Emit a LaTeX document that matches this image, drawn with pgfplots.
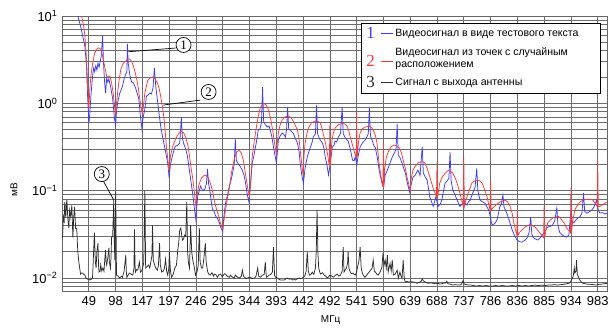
\documentclass[border=0pt]{standalone}
\usepackage{fontspec}
\setmainfont{Liberation Sans}
\newfontfamily\serifnum{Liberation Serif}
\usepackage{pgfplots}
\pgfplotsset{compat=1.18}
\definecolor{cblue}{RGB}{60,60,245}
\definecolor{cred}{RGB}{236,64,64}
\definecolor{cblack}{RGB}{45,45,45}
\begin{document}
\begin{tikzpicture}
\begin{axis}[
  scale only axis, width=545bp, height=275bp,
  at={(0bp,0bp)}, anchor=south west,
  xmin=0, xmax=1000, ymode=log, ymin=0.0071, ymax=10,
  xtick={49.15,98.3,147.45,196.6,245.75,294.9,344.05,393.2,442.35,491.5,540.65,589.8,638.95,688.1,737.25,786.4,835.55,884.7,933.85,983},
  xticklabels={49,98,147,197,246,295,344,393,442,492,541,590,639,688,737,786,836,885,934,983},
  ytick={0.01,0.1,1,10},
  yticklabels={10\textsuperscript{−2},10\textsuperscript{−1},10\textsuperscript{0},10\textsuperscript{1}},
  minor ytick={0.008,0.009,0.02,0.03,0.04,0.05,0.06,0.07,0.08,0.09,0.2,0.3,0.4,0.5,0.6,0.7,0.8,0.9,2,3,4,5,6,7,8,9},
  xmajorgrids, ymajorgrids, yminorgrids,
  major grid style={draw=black!58, line width=0.65bp},
  minor grid style={draw=black!58, line width=0.65bp},
  major tick length=0pt, minor tick length=0pt,
  axis line style={draw=black!60, line width=0.65bp},
  tick label style={font=\fontsize{13}{13}\selectfont},
  xticklabel style={yshift=-2bp},
  yticklabel style={xshift=-1bp},
  xlabel={МГц}, ylabel={мВ},
  label style={font=\fontsize{13}{13}\selectfont},
  every axis x label/.style={at={(axis description cs:0.493,-0.105)}, anchor=center},
  every axis y label/.style={at={(axis description cs:-0.088,0.367)}, anchor=center, rotate=90},
  legend style={at={(0.989,0.9745)}, anchor=north east, draw=black, line width=0.8bp, fill=white,
    font=\fontsize{10.6}{13}\selectfont, inner xsep=5bp, inner ysep=4bp, row sep=5bp,
    nodes={align=left, inner sep=2bp},
    /tikz/every even column/.append style={column sep=0bp}},
  legend cell align=left,
]
\addplot[color=cblue, line width=0.75bp,
  legend image code/.code={\node[font=\serifnum\fontsize{17}{17}\selectfont,inner sep=0pt] at (0bp,0bp) {1};
  \draw[cblue, line width=0.9bp] (15bp,0bp) -- (27bp,0bp);}] coordinates {
(24,14) (29,10) (34,7.7) (38,5.9) (42,4.5) (45,2.68) (47,1.2) (49.5,0.6) (51,0.75) (53,1.21) (56,2.0) (58,2.54) (60,2.3) (62,2.68) (64,2.4) (66,2.89) (68,2.6) (70,3.0) (72,3.48) (74.5,5.9) (76,3.05) (78,1.8) (80,1.31) (82,1.95) (84,1.75) (86,1.9) (89,1.58) (93,1.12) (96,0.7) (98.3,0.55) (100,0.8) (102,1.01) (106,1.31) (109,1.45) (111,1.58) (114,1.9) (117,2.17) (119,2.3) (120,4.78) (121.5,2.89) (124,2.2) (126,1.9) (128,1.75) (131,1.71) (133,1.6) (135,1.50) (138,1.3) (141,1.12) (144,0.7) (146.5,0.52) (149,0.7) (152,0.86) (155,1.21) (158,1.25) (161,1.31) (164,1.28) (167,1.5) (169.5,2.54) (172,1.58) (175,1.1) (177,0.86) (181,0.55) (185,0.4) (188,0.324) (191,0.26) (194,0.207) (196.6,0.14) (199,0.2) (203,0.256) (206,0.3) (208,0.324) (212,0.33) (216,0.351) (219,0.68) (221,0.4) (223,0.351) (227,0.30) (230,0.25) (232,0.207) (236,0.136) (240,0.09) (242,0.07) (245.5,0.047) (249,0.0867) (252,0.1) (254,0.113) (258,0.1) (262,0.104) (265,0.12) (267,0.177) (269,0.12) (271,0.104) (274,0.075) (276,0.0615) (279,0.058) (282,0.0512) (286,0.047) (289,0.0425) (292,0.037) (295,0.034) (297,0.05) (300,0.0721) (304,0.09) (307,0.113) (310,0.13) (313,0.159) (316,0.2) (318,0.39) (320,0.22) (324,0.2) (327,0.19) (331,0.17) (334,0.15) (337,0.12) (340,0.09) (343,0.074) (346,0.12) (349,0.207) (352,0.25) (355,0.316) (358,0.4) (360,0.494) (363,0.5) (366,0.6) (368,1.53) (370,0.62) (373,0.57) (377,0.535) (380,0.55) (382,0.494) (385,0.42) (388,0.316) (391,0.25) (393.5,0.207) (397,0.38) (400,0.42) (404,0.457) (407,0.44) (410,0.41) (412,0.5) (414,0.9) (416,0.5) (419,0.494) (424,0.457) (428,0.4) (432,0.351) (435,0.28) (437,0.207) (440,0.15) (443,0.122) (446,0.18) (450,0.243) (453,0.28) (456,0.316) (459,0.36) (461,0.411) (465,0.45) (467,0.95) (469,0.45) (472,0.4) (475,0.37) (478,0.351) (481,0.3) (483,0.243) (486,0.2) (489,0.151) (492,0.2) (496,0.316) (499,0.33) (501,0.37) (504,0.36) (507,0.411) (511,0.45) (514,0.9) (516,0.45) (520,0.40) (523,0.38) (525,0.37) (529,0.3) (533,0.224) (536,0.22) (538,0.243) (541,0.2) (544,0.26) (547,0.316) (551,0.35) (556,0.38) (560,0.42) (562,0.45) (564,0.88) (566,0.42) (569,0.38) (572,0.33) (575,0.308) (578,0.25) (582,0.172) (587,0.122) (590,0.115) (593,0.15) (597,0.172) (601,0.2) (606,0.243) (610,0.27) (613,0.3) (615,0.58) (617,0.256) (620,0.24) (624,0.207) (627,0.18) (630,0.159) (634,0.12) (638,0.096) (641,0.12) (644,0.143) (648,0.15) (653,0.172) (657,0.15) (661,0.32) (663,0.16) (666,0.145) (670,0.132) (675,0.0845) (678,0.075) (681,0.066) (686,0.0845) (690,0.066) (694,0.07) (697,0.078) (700,0.1) (703,0.122) (707,0.13) (710,0.14) (712,0.277) (714,0.13) (717,0.102) (721,0.09) (725,0.078) (730,0.066) (734,0.07) (737,0.078) (741,0.07) (743,0.0684) (746,0.075) (749,0.078) (754,0.095) (758,0.110) (761,0.18) (763,0.1) (767,0.078) (771,0.075) (776,0.072) (780,0.065) (783,0.06) (786,0.05) (789,0.0404) (794,0.042) (798,0.046) (801,0.055) (803,0.065) (806,0.07) (809,0.089) (811,0.065) (816,0.0554) (821,0.045) (826,0.0354) (830,0.031) (835,0.0272) (840,0.026) (844,0.0258) (849,0.027) (853,0.0286) (857,0.033) (860,0.05) (862,0.032) (864,0.0294) (868,0.028) (873,0.0272) (878,0.029) (884,0.0327) (887,0.035) (891,0.0383) (896,0.039) (900,0.0404) (904,0.045) (908,0.0632) (910,0.04) (913,0.0335) (918,0.031) (922,0.03) (926,0.0294) (930,0.031) (934,0.06) (936,0.045) (939,0.043) (943,0.046) (946,0.0485) (950,0.05) (954,0.055) (957,0.094) (959,0.058) (963,0.0554) (967,0.057) (972,0.06) (976,0.065) (981,0.078) (984,0.06) (987,0.0554) (992,0.056) (996,0.054) (1000,0.0554)
};
\addlegendentry{Видеосигнал в виде тестового текста\hspace*{15bp}}
\addplot[color=cred, line width=0.75bp,
  legend image code/.code={\node[font=\serifnum\fontsize{17}{17}\selectfont,inner sep=0pt] at (0bp,-3.25bp) {2};
  \draw[cred, line width=0.9bp] (15bp,-3.25bp) -- (27bp,-3.25bp);}] coordinates {
(30,15) (36,10) (40,7.5) (42,5.9) (44,4.0) (45.5,2.68) (47.5,1.4) (49.15,0.86) (51,1.4) (53,2.05) (56,2.8) (60,3.77) (63,4.1) (66,4.3) (68,4.3) (71,4.19) (74,3.6) (78,2.68) (82,2.05) (85,2.0) (88,2.05) (91,1.71) (94,1.3) (97,0.86) (98.3,0.72) (100,1.0) (102,1.31) (105,1.9) (108,2.47) (112,2.85) (117,3.05) (121,3.2) (124,3.22) (128,3.0) (131,2.68) (134,2.3) (137,1.90) (140,1.5) (142,1.21) (145,0.9) (147.45,0.76) (150,1.0) (152,1.31) (155,1.6) (157,1.80) (161,1.95) (166,2.0) (171,1.9) (175,1.71) (178,1.5) (181,1.21) (185,0.85) (188,0.6) (192,0.30) (194.5,0.22) (196.6,0.17) (199,0.25) (203,0.32) (207,0.37) (212,0.43) (218,0.48) (223,0.46) (227,0.41) (231,0.33) (234,0.25) (237,0.18) (240,0.136) (243,0.095) (245.75,0.066) (248,0.09) (251,0.116) (256,0.14) (262,0.151) (267,0.145) (271,0.129) (276,0.1) (280,0.074) (284,0.06) (289,0.047) (292,0.04) (294.9,0.036) (297,0.045) (300,0.06) (304,0.085) (307,0.107) (311,0.16) (316,0.23) (321,0.28) (325,0.29) (329,0.27) (333,0.22) (337,0.15) (341,0.105) (344.05,0.085) (347,0.15) (349,0.243) (353,0.38) (357,0.55) (361,0.76) (364,0.9) (370,1.0) (374,0.96) (377,0.9) (381,0.75) (384,0.611) (387,0.47) (390,0.351) (393.2,0.26) (395,0.35) (397,0.457) (400,0.56) (404,0.644) (409,0.7) (415,0.715) (420,0.69) (423,0.644) (427,0.58) (432,0.494) (435,0.39) (437,0.292) (440,0.2) (442.35,0.15) (444,0.25) (446,0.351) (449,0.44) (452,0.521) (458,0.6) (465,0.627) (470,0.62) (474,0.595) (477,0.52) (479,0.457) (483,0.36) (487,0.27) (490.5,0.19) (491.5,0.56) (492.5,0.19) (494,0.3) (496,0.40) (498,0.46) (501,0.52) (507,0.57) (514,0.59) (519,0.58) (523,0.55) (526,0.49) (529,0.41) (534,0.316) (537,0.27) (539.7,0.24) (540.65,0.8) (541.6,0.24) (544,0.36) (547,0.46) (551,0.51) (556,0.535) (564,0.55) (568,0.53) (571,0.494) (575,0.43) (578,0.351) (582,0.2) (585,0.15) (588.8,0.11) (589.8,0.35) (590.8,0.11) (592,0.17) (595,0.24) (600,0.292) (604,0.32) (609,0.333) (614,0.325) (619,0.308) (623,0.27) (626,0.224) (630,0.18) (633,0.143) (636,0.12) (638.95,0.10) (641,0.14) (644,0.172) (648,0.19) (653,0.207) (658,0.213) (663,0.213) (666,0.207) (670,0.18) (675,0.143) (681,0.107) (687.1,0.085) (688.1,0.213) (689.1,0.085) (691,0.1) (693,0.122) (698,0.145) (703,0.159) (710,0.172) (717,0.159) (721,0.142) (725,0.122) (729,0.1) (732,0.0845) (736.25,0.066) (737.25,0.243) (738.25,0.066) (740,0.075) (743,0.0845) (747,0.1) (752,0.122) (756,0.128) (761,0.132) (766,0.13) (771,0.122) (775,0.105) (780,0.0845) (785.4,0.06) (786.4,0.132) (787.4,0.06) (790,0.063) (794,0.0666) (803,0.074) (813,0.078) (818,0.074) (822,0.0666) (826,0.055) (829,0.0425) (834.55,0.031) (835.55,0.06) (836.55,0.031) (840,0.0335) (849,0.0383) (859,0.041) (868,0.0383) (877,0.0327) (883.7,0.029) (884.7,0.068) (885.7,0.029) (888,0.036) (891,0.0425) (896,0.046) (900,0.0485) (908,0.0512) (913,0.05) (917,0.046) (922,0.042) (926,0.0373) (932.85,0.033) (933.85,0.107) (934.85,0.033) (937,0.045) (941,0.06) (945,0.067) (950,0.074) (956,0.078) (963,0.08) (969,0.08) (974,0.078) (978,0.072) (982,0.066) (983,0.22) (984,0.066) (987,0.066) (990,0.068) (995,0.071) (1000,0.074)
};
\addlegendentry{Видеосигнал из точек с случайным\\расположением}
\addplot[color=cblack, line width=0.75bp,
  legend image code/.code={\node[font=\serifnum\fontsize{17}{17}\selectfont,inner sep=0pt] at (0bp,0bp) {3};
  \draw[cblack, line width=0.9bp] (15bp,0bp) -- (27bp,0bp);}] coordinates {
(1,0.029) (2.5,0.05) (4,0.045) (5,0.074) (6,0.055) (7,0.05) (8,0.07) (9,0.078) (10.5,0.05) (12.5,0.037) (14,0.06) (16,0.05) (18,0.068) (19,0.045) (20,0.029) (21.5,0.05) (23,0.065) (24,0.05) (25,0.037) (27,0.037) (29,0.02) (31,0.015) (33,0.0123) (34,0.0111) (36,0.0114) (38,0.0114) (40,0.011) (42,0.0108) (44,0.0100) (47,0.0097) (51,0.0095) (54,0.0097) (56,0.0100) (58,0.02) (59.5,0.033) (61,0.016) (62.5,0.013) (64,0.02) (66,0.0251) (67,0.014) (68,0.0117) (70,0.012) (71,0.0141) (73,0.012) (75,0.013) (77,0.012) (79,0.018) (80,0.0209) (81,0.015) (82,0.0141) (84,0.017) (86,0.022) (87,0.015) (89,0.013) (90,0.018) (91,0.029) (93,0.03) (95,0.078) (96,0.025) (97,0.016) (98.5,0.098) (100,0.0108) (103,0.0105) (106,0.01) (109,0.0105) (111,0.0102) (114,0.012) (117,0.0183) (118,0.012) (119,0.0102) (122,0.011) (124,0.0114) (127,0.011) (130,0.0108) (132,0.013) (133,0.036) (134,0.014) (135,0.0117) (137,0.0125) (139,0.0123) (142,0.0152) (144,0.0117) (146,0.012) (148,0.013) (150,0.015) (152,0.10) (153.5,0.013) (156,0.0135) (159,0.0141) (161,0.013) (163,0.0152) (165,0.018) (166,0.04) (167.5,0.016) (170,0.0141) (172,0.013) (175,0.0123) (177,0.014) (179,0.0251) (180.5,0.014) (183,0.0117) (186,0.012) (188,0.013) (190,0.0165) (192,0.012) (194,0.0108) (196,0.013) (197,0.0198) (199,0.012) (201,0.0102) (204,0.011) (207,0.013) (210,0.014) (212,0.0198) (214,0.025) (216,0.0354) (218,0.0373) (220,0.03) (221,0.0272) (223,0.028) (225,0.031) (227,0.03) (229,0.074) (230.5,0.0198) (232,0.015) (234,0.013) (236,0.0404) (238,0.02) (240,0.016) (242,0.014) (243,0.013) (245,0.0108) (248,0.012) (250,0.014) (252,0.0373) (253.5,0.0152) (256,0.013) (258,0.013) (260,0.016) (263,0.0251) (264.5,0.0152) (267,0.012) (269,0.0111) (272,0.0108) (275,0.0115) (278,0.0105) (280,0.0111) (283,0.0108) (285,0.0102) (288,0.011) (291,0.0111) (293,0.0105) (295,0.0105) (298,0.0112) (300,0.0111) (303,0.0105) (307,0.0102) (309,0.0108) (312,0.0103) (316,0.01) (318,0.0108) (322,0.0102) (326,0.01) (329,0.0105) (331,0.0123) (333,0.0105) (335,0.0102) (338,0.0098) (340,0.01) (343,0.0102) (346,0.0102) (349,0.0098) (353,0.01) (356,0.0105) (359,0.013) (361,0.0105) (364,0.0102) (368,0.0108) (371,0.011) (373,0.0152) (375,0.0102) (378,0.0105) (380,0.0108) (383,0.011) (386,0.0117) (388,0.0226) (390,0.0108) (392,0.0102) (395,0.01) (398,0.0097) (400,0.0095) (404,0.0095) (408,0.0095) (411,0.0098) (413,0.01) (417,0.0097) (420,0.0098) (423,0.0095) (426,0.0096) (428,0.0095) (432,0.0098) (435,0.01) (438,0.0098) (441,0.01) (444,0.0103) (446,0.0108) (448,0.012) (450,0.0198) (452,0.012) (454,0.0108) (457,0.011) (459,0.0117) (462,0.011) (465,0.013) (466.5,0.02) (468,0.06) (469.5,0.02) (471,0.013) (474,0.0111) (478,0.0115) (481,0.0108) (484,0.0105) (487,0.01) (490,0.0105) (492,0.0108) (495,0.0105) (498,0.0102) (502,0.0108) (505,0.0111) (508,0.0105) (511,0.0108) (514,0.012) (516,0.0226) (517.5,0.0117) (520,0.0125) (522,0.013) (524,0.015) (525,0.0198) (526.5,0.013) (529,0.0117) (531,0.0112) (534,0.0114) (536,0.011) (538,0.0108) (540,0.0115) (542,0.013) (545,0.016) (547,0.0226) (549,0.013) (551,0.0114) (554,0.0105) (556,0.0102) (559,0.0108) (562,0.0114) (565,0.012) (569,0.013) (571,0.016) (573,0.012) (575,0.0117) (578,0.011) (580,0.0108) (583,0.0115) (587,0.0133) (589,0.0193) (591,0.014) (593,0.016) (595,0.013) (597,0.0183) (598.5,0.0117) (600,0.013) (602,0.0147) (604,0.012) (606,0.016) (608,0.0108) (611,0.011) (615,0.0123) (617,0.01) (620,0.0117) (622,0.0105) (624,0.01) (626,0.016) (628,0.0098) (630,0.009) (633,0.0092) (636,0.009) (640,0.0091) (644,0.009) (648,0.0089) (652,0.0087) (655,0.0089) (657,0.009) (659,0.0092) (661,0.0098) (663,0.0093) (666,0.009) (669,0.0088) (672,0.0087) (676,0.0088) (681,0.0087) (686,0.0086) (690,0.0087) (693,0.0085) (697,0.0086) (701,0.0088) (703,0.0087) (706,0.0092) (708,0.0086) (712,0.0085) (717,0.0083) (722,0.0084) (726,0.0083) (730,0.0083) (733,0.0085) (736,0.0094) (738,0.0085) (742,0.0084) (746,0.0083) (750,0.0083) (755,0.0082) (760,0.0081) (766,0.0082) (772,0.0081) (778,0.0082) (784,0.0081) (790,0.0081) (796,0.0082) (802,0.0081) (808,0.0082) (814,0.0081) (820,0.0081) (826,0.0082) (832,0.0081) (838,0.0082) (844,0.0081) (850,0.0082) (856,0.0081) (862,0.0082) (868,0.0083) (874,0.0082) (880,0.0083) (886,0.0082) (892,0.0083) (898,0.0083) (904,0.0084) (910,0.0083) (916,0.0084) (922,0.0085) (926,0.0086) (930,0.0087) (933,0.009) (936,0.0098) (938,0.0105) (940,0.013) (941,0.0114) (943,0.012) (944,0.016) (945.5,0.011) (947,0.0105) (950,0.0095) (953,0.009) (956,0.0087) (960,0.0086) (964,0.0085) (968,0.0085) (974,0.0084) (981,0.0083) (986,0.0085) (990,0.0085) (995,0.0086) (1000,0.0087)
};
\addlegendentry{Сигнал с выхода антенны}
% annotations
\draw[black, line width=0.7bp] (axis cs:122,3.9) -- (axis cs:208.5,4.3);
\node[circle, draw=black, line width=0.7bp, fill=white, inner sep=0.8bp, minimum size=15bp, font=\serifnum\fontsize{13}{13}\selectfont] at (axis cs:223,4.66) {1};
\draw[black, line width=0.7bp] (axis cs:186,0.956) -- (axis cs:254,1.09);
\node[circle, draw=black, line width=0.7bp, fill=white, inner sep=0.8bp, minimum size=15bp, font=\serifnum\fontsize{13}{13}\selectfont] at (axis cs:269,1.35) {2};
\draw[black, line width=0.7bp] (axis cs:75,0.132) -- (axis cs:95,0.078);
\node[circle, draw=black, line width=0.7bp, fill=white, inner sep=0.8bp, minimum size=15bp, font=\serifnum\fontsize{13}{13}\selectfont] at (axis cs:73,0.155) {3};
\end{axis}
\pgfresetboundingbox
\path (-62bp,-37bp) rectangle (547bp,291bp);
\end{tikzpicture}
\end{document}
